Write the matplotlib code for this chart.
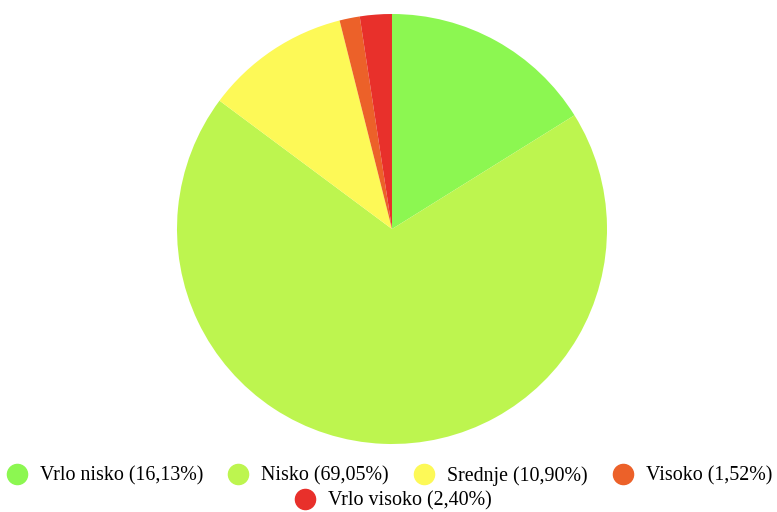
import matplotlib.pyplot as plt
from matplotlib.lines import Line2D

# data
labels = ["Vrlo nisko", "Nisko", "Srednje", "Visoko", "Vrlo visoko"]
shares = [16.13, 69.05, 10.90, 1.52, 2.40]
colors = ["#8cf751", "#bdf54f", "#fdf957", "#ec6129", "#e8302b"]

plt.rcParams['font.family'] = ['Liberation Serif', 'DejaVu Serif']

fig = plt.figure(figsize=(7.77, 5.12), dpi=100)
W, H = 777, 512
cx, cy, r = 392, 229, 215
ax = fig.add_axes([(cx - r) / W, (H - cy - r) / H, 2 * r / W, 2 * r / H])
ax.pie(shares, colors=colors, startangle=90, counterclock=False, radius=1,
       wedgeprops=dict(linewidth=0))
ax.set_xlim(-1, 1)
ax.set_ylim(-1, 1)
ax.axis('off')

def fmt(v):
    return ("%.2f" % v).replace(".", ",")

handles = [Line2D([], [], marker='o', linestyle='none', markersize=14.5,
                  markerfacecolor=c, markeredgecolor=c) for c in colors]
texts = ["%s (%s%%)" % (l, fmt(v)) for l, v in zip(labels, shares)]

common = dict(frameon=False, fontsize=14.4, handletextpad=0.55,
              columnspacing=1.15, handlelength=1.2, borderpad=0)
fig.legend(handles[:4], texts[:4], ncol=4, loc='center',
           bbox_to_anchor=(0.5, 1 - 476 / H), **common)
fig.legend(handles[4:], texts[4:], ncol=1, loc='center',
           bbox_to_anchor=(0.5 + 4 / W, 1 - 501 / H), **common)

fig.savefig("out.png", dpi=100)
